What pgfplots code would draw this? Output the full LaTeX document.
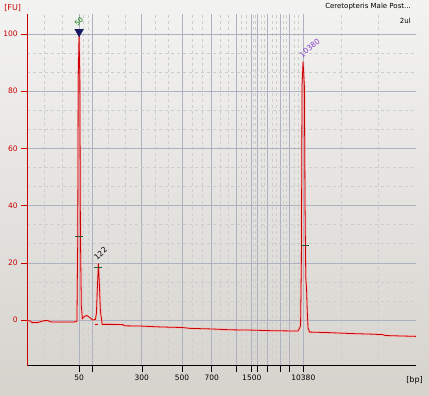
\documentclass[border=0pt]{standalone}
\usepackage{fontspec}
\setmainfont{DejaVu Sans}
\usepackage{pgfplots}
\usepackage{pgfplotstable}
\pgfplotsset{compat=1.18}
\definecolor{trace}{RGB}{204,0,0}
\definecolor{glow}{RGB}{255,170,170}
\definecolor{majgrid}{RGB}{172,178,192}
\definecolor{mingrid}{RGB}{205,205,205}
\definecolor{axred}{RGB}{200,0,0}
\definecolor{navy}{RGB}{25,25,100}
\definecolor{pkgreen}{RGB}{40,90,60}
\definecolor{lblgreen}{RGB}{0,120,0}
\definecolor{lblpurple}{RGB}{130,60,200}
\definecolor{bgtop}{RGB}{243,243,242}
\definecolor{bgbot}{RGB}{214,211,205}

\pgfplotstableread{
x y
27 -0.2
30 -0.3
32 -0.9
38 -0.8
41 -0.5
44 -0.2
48 -0.2
50 -0.6
53 -0.7
62 -0.7
70 -0.7
76 -0.6
76.8 -0.3
77.6 29
78.1 84
78.9 100
79.7 84
80.3 29
81.2 5
82.2 0.5
83.5 1.0
85 1.4
86.5 1.6
88 1.3
90 0.8
92 0.2
93 0.0
95.3 0.3
96.3 2.4
97.3 12
98.3 19.8
99.3 12
100.3 3
101.5 0
102 -1.5
112 -1.5
123 -1.6
124 -2.0
141 -2.1
160 -2.4
182 -2.6
190 -2.9
211 -3.1
230 -3.4
250 -3.5
270 -3.7
290 -3.8
298 -3.8
299.5 -2.8
300.5 -2.0
301.3 20
302 82
303 90.3
304.3 82
305 40
305.7 15
306.5 11
307.2 3
308 -2.8
309.5 -4.2
330 -4.4
350 -4.7
370 -4.9
383 -5.1
385 -5.4
395 -5.5
416 -5.7
}\trace

\begin{document}
\begin{tikzpicture}[x=1pt,y=1pt]
\shade[top color=bgtop, bottom color=bgbot] (0,0) rectangle (429,396);
\begin{axis}[
  at={(27pt,30pt)}, anchor=south west,
  scale only axis, width=389pt, height=352pt,
  xmin=27, xmax=416, ymin=-16, ymax=107,
  axis lines=left,
  x axis line style={-,black,line width=0.8pt},
  y axis line style={-,axred,line width=0.8pt},
  tick align=outside,
  major tick length=6pt, minor tick length=0pt,
  x tick style={black,line width=0.6pt},
  y tick style={axred,line width=0.6pt},
  xtick={79,92,141.7,182,211.7,236.7,251.7,257.3,267.7,280,289.3,303.3},
  xticklabels={50,,300,500,700,,1500,,,,,10380},
  minor xtick={44.33,61.67,83.33,87.67,108.57,125.13,155.13,168.57,191.9,201.8,220.03,228.37,241.7,246.7,253.57,255.43,260.77,264.23,271.8,275.9,283.1,286.2,293.97,298.63,340.87,378.43},
  ytick={0,20,40,60,80,100},
  minor y tick num=2,
  grid=both,
  major grid style={majgrid,line width=0.7pt},
  minor grid style={mingrid,dash pattern=on 3pt off 3pt,line width=0.6pt},
  tick label style={font=\fontsize{7.5}{9}\selectfont},
  yticklabel style={text=axred},
  /pgf/number format/assume math mode=true,
]
\addplot[glow, line width=2.2pt, opacity=0.6] table[x=x,y=y]{\trace};
\addplot[trace, line width=0.8pt] table[x=x,y=y]{\trace};
\addplot[glow, line width=2.2pt, opacity=0.6] coordinates {(94.5,-1.5) (97.5,-1.5)};
\addplot[trace, line width=0.8pt] coordinates {(94.5,-1.5) (97.5,-1.5)};
\addplot[only marks, mark=-, mark size=4pt, pkgreen, mark options={line width=0.8pt}] coordinates {(79.3,29.4) (98.3,18.5) (304.5,26.2)};
\addplot[only marks, mark=triangle*, mark size=5pt, mark options={rotate=180, fill=navy, draw=navy}] coordinates {(79,100.8)};
\node[rotate=45, anchor=west, text=lblgreen, font=\fontsize{7}{8}\selectfont, inner sep=0pt] at (axis cs:75.5,103.3) {50};
\node[rotate=42, anchor=west, text=black, font=\fontsize{7.5}{8}\selectfont, inner sep=0pt] at (axis cs:95,21.6) {122};
\node[rotate=40, anchor=west, text=lblpurple, font=\fontsize{7.5}{8}\selectfont, inner sep=0pt] at (axis cs:300.3,92.3) {10380};
\end{axis}
\node[anchor=center, text=axred, font=\fontsize{8}{9}\selectfont] at (12.5,388) {[FU]};
\node[anchor=center, text=black, font=\fontsize{8}{9}\selectfont] at (414.5,16) {[bp]};
\node[anchor=east, text=black, font=\fontsize{7}{8}\selectfont, inner sep=0pt] at (411,389) {Ceretopteris Male Post...};
\node[anchor=east, text=black, font=\fontsize{7}{8}\selectfont, inner sep=0pt] at (411,375.5) {2ul};
\end{tikzpicture}
\end{document}
